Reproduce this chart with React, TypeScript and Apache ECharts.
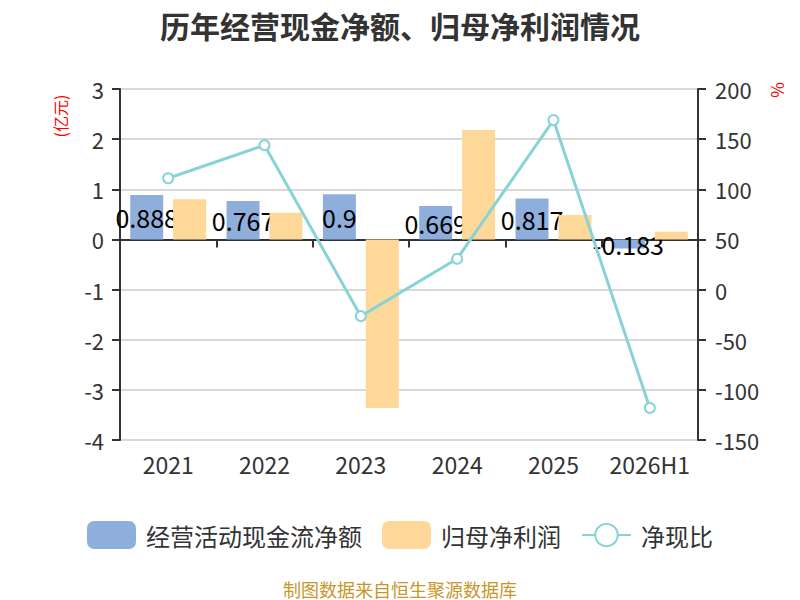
import React, { useEffect, useRef } from "react";
import * as echarts from "echarts";

const categories = ["2021", "2022", "2023", "2024", "2025", "2026H1"];
const cashFlow = [0.888, 0.767, 0.9, 0.669, 0.817, -0.183];
const netProfit = [0.8, 0.533, -3.36, 2.18, 0.485, 0.155];
const cashRatio = [111, 144, -26.5, 30.7, 169, -118];
const leftTicks = { min: -4, max: 3, interval: 1 };
const rightTicks = { min: -150, max: 200, interval: 50 };

const FONT = "'Noto Sans CJK SC', 'Noto Sans', sans-serif";

export default function App() {
  const ref = useRef<HTMLDivElement>(null);
  useEffect(() => {
    document.body.style.margin = "0";
    if (!ref.current) return;
    const chart = echarts.init(ref.current, undefined, { renderer: "svg" });
    chart.setOption({
      animation: false,
      textStyle: { fontFamily: FONT },
      title: [
        {
          text: "历年经营现金净额、归母净利润情况",
          left: "center",
          top: 5,
          textStyle: { fontSize: 30, fontWeight: "bold", color: "#333", fontFamily: FONT },
        },
        {
          text: "制图数据来自恒生聚源数据库",
          left: "center",
          top: 579,
          padding: 0,
          textStyle: { fontSize: 18, fontWeight: "normal", color: "#c8962a", fontFamily: FONT, lineHeight: 19 },
        },
      ],
      legend: {
        top: 516,
        left: "center",
        itemWidth: 49,
        itemHeight: 28,
        itemGap: 20,
        textStyle: { fontSize: 24, color: "#333", fontFamily: FONT, padding: [0, 0, 0, 5] },
        data: [
          { name: "经营活动现金流净额", icon: "roundRect" },
          { name: "归母净利润", icon: "roundRect" },
          { name: "净现比" },
        ],
      },
      grid: { left: 120, right: 102, top: 89, bottom: 160, containLabel: false },
      graphic: [
        {
          type: "text",
          x: 60,
          y: 116,
          rotation: Math.PI / 2,
          style: {
            text: "(亿元)",
            fill: "#ff0000",
            fontSize: 16,
            fontFamily: FONT,
            align: "center",
            verticalAlign: "middle",
          },
        },
        {
          type: "text",
          x: 776,
          y: 90,
          rotation: Math.PI / 2,
          style: {
            text: "%",
            fill: "#ff0000",
            fontSize: 17,
            fontFamily: FONT,
            align: "center",
            verticalAlign: "middle",
          },
        },
      ],
      xAxis: [
        {
          type: "category",
          data: categories,
          position: "bottom",
          axisLine: { onZero: true, lineStyle: { color: "#333", width: 2 } },
          axisTick: { show: true, length: 8, lineStyle: { color: "#333", width: 2 } },
          axisLabel: { show: false },
        },
        {
          type: "category",
          data: categories,
          position: "bottom",
          axisLine: { show: false, onZero: false },
          axisTick: { show: false },
          axisLabel: { show: true, interval: 0, fontSize: 23, color: "#333", margin: 12, fontFamily: FONT },
        },
      ],
      yAxis: [
        {
          type: "value",
          min: leftTicks.min,
          max: leftTicks.max,
          interval: leftTicks.interval,
          position: "left",
          axisLine: { show: true, lineStyle: { color: "#333", width: 2 } },
          axisTick: { show: true, length: 8, lineStyle: { color: "#333", width: 2 } },
          axisLabel: { fontSize: 22, color: "#333", margin: 16, fontFamily: FONT },
          splitLine: { show: true, lineStyle: { color: "#ccc", width: 1.5 } },
        },
        {
          type: "value",
          min: rightTicks.min,
          max: rightTicks.max,
          interval: rightTicks.interval,
          position: "right",
          axisLine: { show: true, lineStyle: { color: "#333", width: 2 } },
          axisTick: { show: true, length: 8, lineStyle: { color: "#333", width: 2 } },
          axisLabel: { fontSize: 22, color: "#333", margin: 17, fontFamily: FONT },
          splitLine: { show: false },
        },
      ],
      series: [
        {
          name: "经营活动现金流净额",
          type: "bar",
          xAxisIndex: 0,
          yAxisIndex: 0,
          data: cashFlow,
          barWidth: 33,
          barGap: "30%",
          z: 2,
          itemStyle: { color: "#8eaedc" },
          label: {
            show: true,
            position: "inside",
            color: "#000",
            fontSize: 25,
            fontFamily: FONT,
          },
        },
        {
          name: "归母净利润",
          type: "bar",
          xAxisIndex: 0,
          yAxisIndex: 0,
          data: netProfit,
          barWidth: 33,
          barGap: "30%",
          z: 3,
          itemStyle: { color: "#fed898" },
        },
        {
          name: "净现比",
          type: "line",
          xAxisIndex: 0,
          yAxisIndex: 1,
          data: cashRatio,
          z: 4,
          symbol: "emptyCircle",
          symbolSize: 10,
          lineStyle: { color: "#88d3d8", width: 3 },
          itemStyle: { color: "#88d3d8", borderWidth: 2 },
        },
      ],
    });
    return () => chart.dispose();
  }, []);
  return <div ref={ref} style={{ width: 800, height: 600 }} />;
}
